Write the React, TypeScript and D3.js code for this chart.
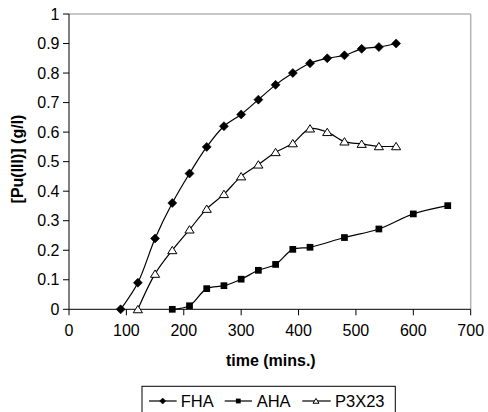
import React from "react";
import * as d3 from "d3";

// Pu(III) concentration over time for three reductants
const fhaTime = [90, 120, 150, 180, 210, 240, 270, 300, 330, 360, 390, 420, 450, 480, 510, 540, 570];
const fhaConc = [0, 0.09, 0.24, 0.36, 0.46, 0.55, 0.62, 0.66, 0.71, 0.76, 0.8, 0.833, 0.85, 0.86, 0.882, 0.888, 0.9];

const ahaTime = [180, 210, 240, 270, 300, 330, 360, 390, 420, 480, 540, 600, 660];
const ahaConc = [0, 0.012, 0.07, 0.08, 0.102, 0.132, 0.152, 0.203, 0.21, 0.243, 0.272, 0.323, 0.351];

const p3Time = [120, 150, 180, 210, 240, 270, 300, 330, 360, 390, 420, 450, 480, 510, 540, 570];
const p3Conc = [0, 0.12, 0.2, 0.27, 0.34, 0.39, 0.45, 0.49, 0.532, 0.562, 0.612, 0.6, 0.568, 0.56, 0.552, 0.552];

const xTicks = [0, 100, 200, 300, 400, 500, 600, 700];
const yTicks = [0, 0.1, 0.2, 0.3, 0.4, 0.5, 0.6, 0.7, 0.8, 0.9, 1];

const seriesNames = ["FHA", "AHA", "P3X23"];

const W = 488;
const H = 412;
const font = "Liberation Sans, Arial, sans-serif";

type Pt = [number, number];

function Marker({ kind, x, y, s }: { kind: string; x: number; y: number; s: number }) {
  if (kind === "FHA") {
    const p = `M${x},${y - s}L${x + s},${y}L${x},${y + s}L${x - s},${y}Z`;
    return <path d={p} fill="#000" stroke="#000" strokeWidth={0.6} />;
  }
  if (kind === "AHA") {
    return <rect x={x - s * 0.8} y={y - s * 0.8} width={s * 1.6} height={s * 1.6} fill="#000" />;
  }
  const p = `M${x},${y - s * 0.85}L${x + s},${y + s * 0.75}L${x - s},${y + s * 0.75}Z`;
  return <path d={p} fill="#fff" stroke="#000" strokeWidth={1} />;
}

export default function App() {
  const x = d3.scaleLinear().domain([0, 700]).range([69, 470.7]);
  const y = d3.scaleLinear().domain([0, 1]).range([309.3, 14]);
  const line = d3
    .line<Pt>()
    .x((d) => x(d[0]))
    .y((d) => y(d[1]))
    .curve(d3.curveCatmullRom.alpha(0.5));

  const series = [
    { name: "FHA", pts: fhaTime.map((t, i) => [t, fhaConc[i]] as Pt), s: 4.5 },
    { name: "AHA", pts: ahaTime.map((t, i) => [t, ahaConc[i]] as Pt), s: 4.2 },
    { name: "P3X23", pts: p3Time.map((t, i) => [t, p3Conc[i]] as Pt), s: 4.6 },
  ];

  const legendItems = [
    { lx0: 149, lx1: 176.7, mx: 162.7, tx: 180.7 },
    { lx0: 224.7, lx1: 252, mx: 238.3, tx: 256.7 },
    { lx0: 302.3, lx1: 330.7, mx: 316, tx: 335 },
  ];

  const [x0, x1] = x.range();
  const [y0, y1] = y.range();

  return (
    <svg width={W} height={H} style={{ display: "block", position: "absolute", left: 0, top: 0 }} fontFamily={font}>
      <rect width={W} height={H} fill="#fff" />
      {/* plot frame */}
      <line x1={x0} x2={x1} y1={y1} y2={y1} stroke="#b4b4b4" strokeWidth={1.5} />
      <line x1={x1} x2={x1} y1={y1} y2={y0} stroke="#b4b4b4" strokeWidth={1.5} />
      <line x1={x0} x2={x0} y1={y1} y2={y0} stroke="#000" strokeWidth={1} />
      <line x1={x0} x2={x1} y1={y0} y2={y0} stroke="#000" strokeWidth={1} />

      {yTicks.map((t) => (
        <g key={"y" + t}>
          <line x1={x0 - 6} x2={x0} y1={y(t)} y2={y(t)} stroke="#000" />
          <text x={59.5} y={y(t)} dy="0.35em" textAnchor="end" fontSize={16}>
            {t}
          </text>
        </g>
      ))}
      {xTicks.map((t) => (
        <g key={"x" + t}>
          <line x1={x(t)} x2={x(t)} y1={y0} y2={y0 + 6} stroke="#000" />
          <text x={x(t)} y={336} textAnchor="middle" fontSize={16}>
            {t}
          </text>
        </g>
      ))}

      <text x={270.8} y={366} textAnchor="middle" fontSize={16} fontWeight="bold">
        time (mins.)
      </text>
      <text
        transform="translate(23,159) rotate(-90)"
        textAnchor="middle"
        fontSize={16}
        fontWeight="bold"
      >
        [Pu(III)] (g/l)
      </text>

      {series.map((s) => (
        <g key={s.name}>
          <path d={line(s.pts) ?? ""} fill="none" stroke="#000" strokeWidth={1.2} />
          {s.pts.map((p, i) => (
            <Marker key={i} kind={s.name} x={x(p[0])} y={y(p[1])} s={s.s} />
          ))}
        </g>
      ))}

      {/* legend */}
      <rect x={142} y={386.3} width={253.3} height={40} fill="#fff" stroke="#000" strokeWidth={1} />
      {seriesNames.map((n, i) => {
        const it = legendItems[i];
        return (
          <g key={n}>
            <line x1={it.lx0} x2={it.lx1} y1={401} y2={401} stroke="#000" strokeWidth={1.2} />
            <Marker kind={n} x={it.mx} y={401} s={3} />
            <text x={it.tx} y={406.7} fontSize={16.5}>
              {n}
            </text>
          </g>
        );
      })}
    </svg>
  );
}
